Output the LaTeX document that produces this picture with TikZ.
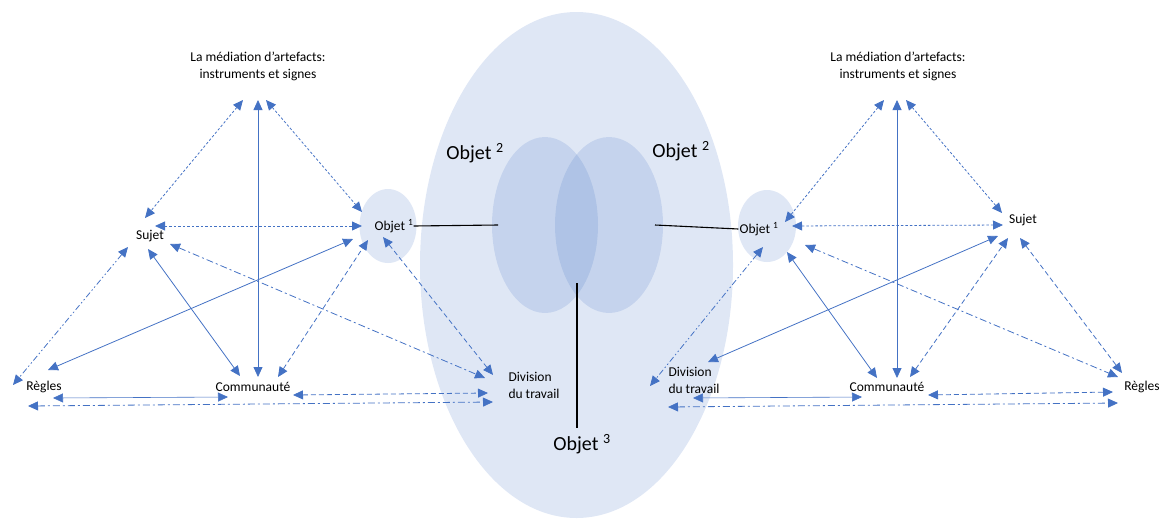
\documentclass[tikz,border=0pt]{standalone}
\usepackage{fontspec}
\setmainfont{Carlito}
\usetikzlibrary{arrows.meta}
\usetikzlibrary{shapes.geometric}
\definecolor{officeblue}{RGB}{68,114,196}

\tikzset{
	lbl/.style = {font=\fontsize{13.5}{17}\selectfont, inner sep=0pt, align=center},
	bigobj/.style = {font=\fontsize{20}{24}\selectfont, inner sep=0pt},
	blob/.style = {ellipse, draw=none, fill=officeblue, fill opacity=0.17, inner sep=0pt, outer sep=0pt},
	rel/.style = {<->, color=officeblue, line width=0.8pt},
	dotline/.style = {rel, dash pattern=on 2.5pt off 2pt},
	dashline/.style = {rel, dash pattern=on 5pt off 3pt},
	dashdot/.style = {rel, dash pattern=on 7pt off 3pt on 2pt off 3pt},
	dashdotdot/.style = {rel, dash pattern=on 6pt off 2.5pt on 1.5pt off 2.5pt on 1.5pt off 2.5pt},
	twin/.style = {rel, double=officeblue!35, double distance=1.3pt, line width=0.6pt},
	link/.style = {color=black, line width=1.1pt}
}

\begin{document}
\begin{tikzpicture}[x=1pt, y=-1pt]
		\useasboundingbox (0,0) rectangle (1172,520);
		% the shared objects
		\begin{scope}[every node/.style = {blob}]
			\node[minimum width=313pt, minimum height=506pt] (zone3) at (576.5,265) {};
			\node[minimum width=106pt, minimum height=176pt] (o2L) at (545,225) {};
			\node[minimum width=108pt, minimum height=176pt] (o2R) at (609,225) {};
			\node[minimum width=57pt, minimum height=74pt] (ballL) at (388,226) {};
			\node[minimum width=58pt, minimum height=72pt] (ballR) at (767,226) {};
		\end{scope}
		\begin{scope}[every node/.style = {bigobj}]
			\node (lblO2L) at (475,153) {Objet \textsuperscript{2}};
			\node (lblO2R) at (681,151) {Objet \textsuperscript{2}};
			\node (lblO3) at (582,444) {Objet \textsuperscript{3}};
		\end{scope}
		% left system
		\begin{scope}[every node/.style = {lbl}]
			\node (medL) at (258,66) {La médiation d’artefacts:\\instruments et signes};
			\node (sujL) at (150,236) {Sujet};
			\node (objL) at (394,226) {Objet \textsuperscript{1}};
			\node (regL) at (44,387) {Règles};
			\node (comL) at (253,387) {Communauté};
			\node[align=left] (divL) at (534,385) {Division\\du travail};
		\end{scope}
		% right system
		\begin{scope}[every node/.style = {lbl}]
			\node (medR) at (898,66) {La médiation d’artefacts:\\instruments et signes};
			\node (objR) at (759,229) {Objet \textsuperscript{1}};
			\node (sujR) at (1023,220) {Sujet};
			\node[align=left] (divR) at (694,380) {Division\\du travail};
			\node (comR) at (887,387) {Communauté};
			\node (regR) at (1142,387) {Règles};
		\end{scope}
		\coordinate (tL) at (258,100);
		\coordinate (tR) at (897,100);
		\coordinate (o3top) at (577,283);
		% black links to the shared objects
		\path[link] (objL.east) edge ([xshift=6pt]o2L.west);
		\path[link] ([xshift=-8pt]o2R.east) edge ([xshift=-1pt]objR.west);
		\path[link] (o3top) edge ([yshift=6pt]o3top |- lblO3.north);
		\begin{scope}[>={Triangle[length=10pt, width=9pt]}]
			\path[dotline] ([shift={(-15,0)}]tL) edge ([shift={(-5,-18)}]sujL.center);
			\path[rel] (tL) edge ([shift={(5,-10)}]comL.center);
			\path[dotline] ([shift={(8,0)}]tL) edge ([shift={(-32,-14)}]objL.center);
			\path[dotline] ([shift={(5,-10)}]sujL.center) edge ([shift={(-32,0)}]objL.center);
			\path[dashdotdot] ([shift={(-22,11)}]sujL.center) edge ([shift={(-31,-2)}]regL.center);
			\path[rel] ([shift={(-2,13)}]sujL.center) edge ([shift={(-13,-11)}]comL.center);
			\path[dashdot] ([shift={(20,8)}]sujL.center) edge ([shift={(-49,-7)}]divL.center);
			\path[rel] ([shift={(4,-17)}]regL.center) edge ([shift={(-41,13)}]objL.center);
			\path[dashline] ([shift={(25,-10)}]comL.center) edge ([shift={(-26,14)}]objL.center);
			\path[dashline] ([shift={(-11,11)}]objL.center) edge ([shift={(-41,-10)}]divL.center);
			\path[twin] ([shift={(9,11)}]regL.center) edge ([shift={(-25,10)}]comL.center);
			\path[dashline] ([shift={(40,8)}]comL.center) edge ([shift={(-46,8)}]divL.center);
			\path[dashdot] ([shift={(-16,19)}]regL.center) edge ([shift={(-41,17)}]divL.center);

			\path[dotline] ([shift={(-13,0)}]tR) edge ([shift={(26,-7)}]objR.center);
			\path[rel] (tR) edge ([shift={(10,-9)}]comR.center);
			\path[dotline] ([shift={(9,0)}]tR) edge ([shift={(-21,-7)}]sujR.center);
			\path[dotline] ([shift={(33,-3)}]objR.center) edge ([shift={(-20,5)}]sujR.center);
			\path[dashdotdot] ([shift={(4,18)}]objR.center) edge ([shift={(-44,6)}]divR.center);
			\path[rel] ([shift={(28,23)}]objR.center) edge ([shift={(-10,-9)}]comR.center);
			\path[dashdot] ([shift={(46,16)}]objR.center) edge ([shift={(-24,-10)}]regR.center);
			\path[rel] ([shift={(14,-18)}]divR.center) edge ([shift={(-25,16)}]sujR.center);
			\path[dashline] ([shift={(23,-10)}]comR.center) edge ([shift={(-15,18)}]sujR.center);
			\path[dashline] ([shift={(-3,18)}]sujR.center) edge ([shift={(-20,-14)}]regR.center);
			\path[twin] ([shift={(-1,18)}]divR.center) edge ([shift={(-25,10)}]comR.center);
			\path[dashline] ([shift={(41,8)}]comR.center) edge ([shift={(-29,5)}]regR.center);
			\path[dashdot] ([shift={(-26,27)}]divR.center) edge ([shift={(-24,16)}]regR.center);
		\end{scope}
	\end{tikzpicture}
\end{document}
